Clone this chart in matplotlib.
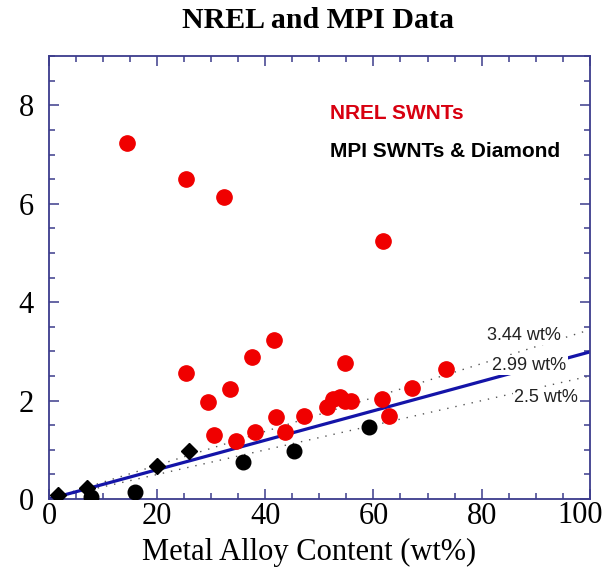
import numpy as np
import matplotlib
matplotlib.use("Agg")
import matplotlib.pyplot as plt
from matplotlib.ticker import MultipleLocator

# NREL SWNTs (red circles)
nrel_x = [14.4, 25.3, 32.4, 61.7, 25.4, 29.4, 33.4, 37.6, 41.7, 30.5, 34.6, 38.1,
          42.0, 43.6, 47.1, 51.5, 52.5, 53.8, 54.8, 54.8, 55.8, 61.6, 62.8, 67.1, 73.4]
nrel_y = [7.23, 6.51, 6.14, 5.25, 2.57, 1.97, 2.24, 2.88, 3.24, 1.30, 1.19, 1.37,
          1.66, 1.37, 1.69, 1.88, 2.03, 2.07, 2.76, 2.00, 2.00, 2.03, 1.69, 2.25, 2.65]
# MPI SWNTs (black circles) and diamond (black diamonds)
mpi_x = [7.8, 15.9, 35.8, 45.3, 59.1]
mpi_y = [0.05, 0.14, 0.75, 0.98, 1.47]
dia_x = [1.6, 7.1, 19.9, 25.8]
dia_y = [0.09, 0.22, 0.68, 0.97]
# reference lines (wt%) -> slope per wt% metal
ref_wt = [3.44, 2.99, 2.5]
ref_lab = ["3.44 wt%", "2.99 wt%", "2.5 wt%"]
lab_xy = [(81, 3.33), (82, 2.72), (86, 2.07)]
xticks = [0, 20, 40, 60, 80, 100]

SANS = ["Liberation Sans", "DejaVu Sans"]
plt.rcParams["font.family"] = ["Liberation Serif", "DejaVu Serif"]
fig = plt.figure(figsize=(6.08, 5.73), dpi=100)
ax = fig.add_axes([0.0806, 0.129, 0.8894, 0.773])

xs = np.array([0, 100])
for w in ref_wt:
    if w == 2.99:
        ax.plot(xs, xs * w / 100, color="#1414a8", lw=2.3, zorder=2)
    else:
        ax.plot(xs, xs * w / 100, ls=(0, (1, 5)), color="#555555", lw=1.0, zorder=1)
for t, (tx, ty) in zip(ref_lab, lab_xy):
    ax.text(tx, ty, t, fontsize=13, family=SANS, color="#222222",
            va="center", ha="left", zorder=3,
            bbox=dict(facecolor="white", edgecolor="none", pad=1.0))

ax.plot(nrel_x, nrel_y, "o", color="#f00000", ms=11, mec="#f00000", zorder=4)
ax.plot(mpi_x, mpi_y, "o", color="black", ms=10.5, zorder=4)
ax.plot(dia_x, dia_y, "D", color="black", ms=8.5, zorder=4)

ax.text(52, 7.84, "NREL SWNTs", color="#d80010", fontsize=15, fontweight="bold",
        family=SANS, va="center")
ax.text(52, 7.07, "MPI SWNTs & Diamond", color="black", fontsize=15, fontweight="bold",
        family=SANS, va="center")

ax.set_xlim(0, 100)
ax.set_ylim(0, 9)
ax.set_xticks(xticks)
ax.set_xticklabels([str(v) if v != 100 else "" for v in xticks])
# last label nudged left so it stays inside the picture
ax.annotate("100", (100, 0), xycoords=("data", "axes fraction"), xytext=(-7, -1.5),
            textcoords="offset points", ha="center", va="top", fontsize=22)
ax.xaxis.set_minor_locator(MultipleLocator(5))
ax.yaxis.set_major_locator(MultipleLocator(2))
ax.yaxis.set_minor_locator(MultipleLocator(0.5))
spine_col = "#3c3c8c"
for s in ax.spines.values():
    s.set_color(spine_col); s.set_linewidth(1.3)
ax.tick_params(which="both", direction="in", top=True, right=True, color=spine_col, width=1.1)
ax.tick_params(which="major", length=7, labelsize=22, pad=2)
ax.tick_params(which="minor", length=4)
ax.tick_params(axis="y", which="major", pad=11)

ax.set_xlabel("Metal Alloy Content (wt%)", fontsize=22)
ax.xaxis.set_label_coords(0.48, -0.088)
fig.text(0.523, 0.965, "NREL and MPI Data", ha="center", va="center", fontsize=21.5, fontweight="bold")

fig.savefig("out.png", dpi=100)
